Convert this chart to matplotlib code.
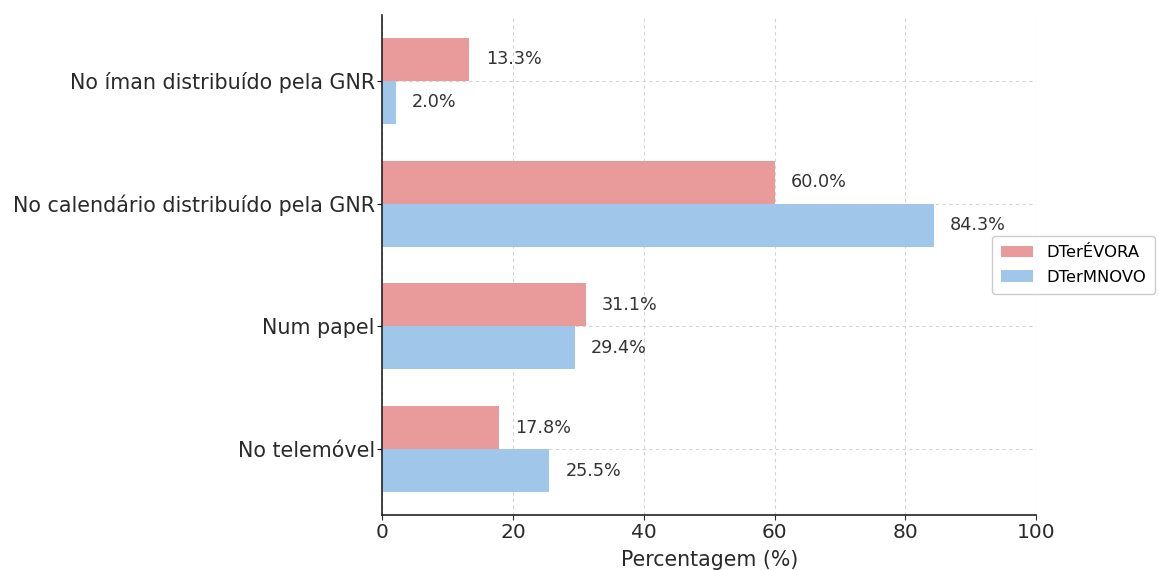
import matplotlib
matplotlib.use("Agg")
import matplotlib.pyplot as plt
import numpy as np

categories = [
    "No íman distribuído pela GNR",
    "No calendário distribuído pela GNR",
    "Num papel",
    "No telemóvel",
]
evora = [13.3, 60.0, 31.1, 17.8]
mnovo = [2.0, 84.3, 29.4, 25.5]
series_names = ["DTerÉVORA", "DTerMNOVO"]
xticks = [0, 20, 40, 60, 80, 100]

fig = plt.figure(figsize=(11.59, 5.70), dpi=100)
ax = fig.add_axes([0.33, 0.0965, 0.564, 0.877])

y = np.arange(len(categories))
h = 0.35
b1 = ax.barh(y - h / 2, evora, height=h, color="#E99A9A", label=series_names[0])
b2 = ax.barh(y + h / 2, mnovo, height=h, color="#A0C6E9", label=series_names[1])

for bars, vals in ((b1, evora), (b2, mnovo)):
    for bar, v in zip(bars, vals):
        ax.text(v + 2.5, bar.get_y() + bar.get_height() / 2, f"{v:.1f}%",
                va="center", ha="left", fontsize=12.7, color="#333333")

ax.set_yticks(y)
ax.set_yticklabels(categories, fontsize=14.9, color="#2a2a2a")
ax.invert_yaxis()
ax.set_xlim(0, 100)
ax.set_xticks(xticks)
ax.tick_params(axis="x", labelsize=14.5, colors="#2a2a2a", pad=2)
ax.tick_params(axis="y", pad=2)
ax.set_xlabel("Percentagem (%)", fontsize=14.8, color="#2a2a2a", labelpad=6)

ax.set_axisbelow(True)
ax.grid(True, linestyle=(0, (3, 3)), color="#d4d4d4", linewidth=0.8)
for s in ("top", "right"):
    ax.spines[s].set_visible(False)
for s in ("left", "bottom"):
    ax.spines[s].set_color("#222222")
    ax.spines[s].set_linewidth(1.2)

ax.legend(loc="center left", bbox_to_anchor=(0.932, 0.5), fontsize=11.8,
          frameon=True, edgecolor="#cccccc", framealpha=1, handlelength=2.0,
          borderaxespad=0, labelspacing=0.6, borderpad=0.55)

fig.savefig("out.png", dpi=100)
